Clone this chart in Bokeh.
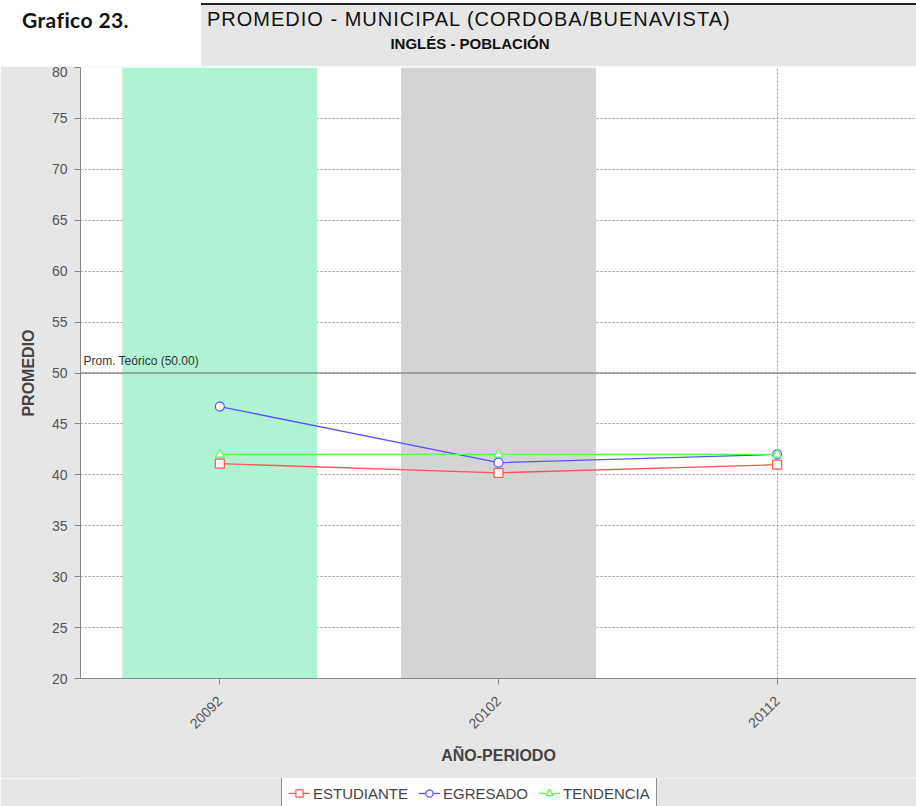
from bokeh.plotting import figure
from bokeh.models import (Range1d, FactorRange, FixedTicker, Span, Label, Legend, LegendItem,
                          BoxAnnotation, ColumnDataSource, Div)
from bokeh.layouts import column
from bokeh.embed import file_html
from bokeh.resources import INLINE
import math

# ---------------- data ----------------
periods = ["20092", "20102", "20112"]
estudiante = [41.1, 40.2, 41.0]
egresado = [46.7, 41.2, 42.0]
tendencia = [42.0, 42.0, 42.0]
prom_teorico = 50.0
y_ticks = [20, 25, 30, 35, 40, 45, 50, 55, 60, 65, 70, 75, 80]
band_periods = ["20092", "20102"]
band_colors = ["#b0f2d4", "#d4d4d4"]

chart_title = "PROMEDIO - MUNICIPAL (CORDOBA/BUENAVISTA)"
chart_subtitle = "INGLÉS - POBLACIÓN"
grafico_label = "Grafico 23."

W = 916
HEAD_H = 66
LEFT = 80
FRAME_W = W - LEFT
FRAME_H = 611
BOTTOM = 100
LEG_H = 28
BG = "#e6e6e6"
ARIAL_S = "'Liberation Sans', Arial, sans-serif"

# ---------------- header (HTML) ----------------
header_html = f"""
<div style="position:relative;width:{W}px;height:{HEAD_H}px;background:white;overflow:hidden;">
  <div style="position:absolute;left:201px;top:3px;width:{W-201}px;height:{HEAD_H-3}px;
              background:{BG};border-top:2px solid #222;box-sizing:border-box;"></div>
  <div style="position:absolute;left:22px;top:8px;line-height:24px;font-family:Lato,sans-serif;
              font-weight:bold;font-size:21px;letter-spacing:0.4px;color:#111;white-space:nowrap;">{grafico_label}</div>
  <div style="position:absolute;left:207px;top:7px;line-height:24px;font-family:{ARIAL_S};
              font-size:20px;letter-spacing:1px;color:#111;white-space:nowrap;">{chart_title}</div>
  <div style="position:absolute;left:370px;width:200px;top:35px;line-height:18px;text-align:center;
              font-family:'Liberation Sans Narrow','Liberation Sans',sans-serif;font-weight:bold;
              font-size:15px;color:#111;white-space:nowrap;">{chart_subtitle}</div>
</div>
"""
h = Div(text=header_html, width=W, height=HEAD_H, margin=0)

# ---------------- chart ----------------
x_range = FactorRange(factors=periods, range_padding=0)
y_range = Range1d(20, 80)
p = figure(frame_width=FRAME_W, frame_height=FRAME_H, x_range=x_range, y_range=y_range,
           output_backend="svg", toolbar_location=None,
           min_border_left=LEFT, min_border_right=0, min_border_top=1, min_border_bottom=BOTTOM,
           background_fill_color="white", border_fill_color=BG, outline_line_color=None,
           margin=0)

# bands
p.vbar(x=band_periods, width=0.7, bottom=20, top=80, fill_color=band_colors, line_color=None)

p.yaxis.ticker = FixedTicker(ticks=y_ticks)
for ax in (p.xaxis[0], p.yaxis[0]):
    ax.axis_line_color = "#888888"
    ax.major_tick_line_color = "#888888"
    ax.minor_tick_line_color = None
    ax.major_tick_in = 0
    ax.major_tick_out = 6
    ax.major_label_text_font = ARIAL_S
    ax.major_label_text_font_size = "14px"
    ax.major_label_text_color = "#555555"
    ax.axis_label_text_font = ARIAL_S
    ax.axis_label_text_font_style = "bold"
    ax.axis_label_text_font_size = "16px"
    ax.axis_label_text_color = "#444444"

p.yaxis.axis_label = "PROMEDIO"
p.yaxis.major_label_standoff = 7
p.yaxis.axis_label_standoff = 12
p.xaxis.axis_label = "AÑO-PERIODO"
p.xaxis.major_label_orientation = math.pi / 4
p.xaxis.major_label_standoff = 14
p.xaxis.axis_label_standoff = 11

p.grid.grid_line_color = "#999999"
p.grid.grid_line_dash = "2 2"
p.grid.grid_line_width = 1

# theoretical average
p.add_layout(Span(location=prom_teorico, dimension="width", line_color="#666666", line_width=1))
p.add_layout(Label(x=3, x_units="screen", y=prom_teorico, y_offset=5, text="Prom. Teórico (50.00)",
                   text_font=ARIAL_S, text_font_size="12px", text_color="#333333",
                   text_baseline="bottom"))

series = [("ESTUDIANTE", estudiante, "#ff5555", "square"),
          ("EGRESADO", egresado, "#5555ff", "circle"),
          ("TENDENCIA", tendencia, "#55ff55", "triangle")]

# legend strip below the chart (same series styles, renderers hidden)
lf = figure(frame_width=W, frame_height=LEG_H, x_range=x_range, y_range=y_range,
            output_backend="svg", toolbar_location=None, x_axis_type=None, y_axis_type=None,
            min_border_left=0, min_border_right=0, min_border_top=0, min_border_bottom=0,
            background_fill_color=BG, border_fill_color=BG, outline_line_color=None, margin=0)
lf.grid.visible = False
lf.add_layout(BoxAnnotation(left=0, right=W, top=0, bottom=LEG_H, left_units="canvas",
                            right_units="canvas", top_units="canvas", bottom_units="canvas",
                            fill_color=BG, fill_alpha=1, line_color=None))

items = []
for name, vals, col, marker in series:
    src = ColumnDataSource(dict(x=periods, y=vals))
    p.line("x", "y", source=src, line_color=col, line_width=1.3)
    p.scatter("x", "y", source=src, marker=marker, size=9, fill_color="white",
              line_color=col, line_width=1.2)
    l1 = lf.line("x", "y", source=src, line_color=col, line_width=1.3, visible=False)
    l2 = lf.scatter("x", "y", source=src, marker=marker, size=9, fill_color="white",
                    line_color=col, line_width=1.2, visible=False)
    items.append(LegendItem(label=name, renderers=[l1, l2]))

legend = Legend(items=items, orientation="horizontal", location=(281, -3),
                border_line_color="#222222", border_line_width=1, background_fill_color="white",
                background_fill_alpha=1, label_text_font=ARIAL_S, label_text_font_size="15px",
                label_text_color="#444444", glyph_width=22, glyph_height=18, label_standoff=3,
                spacing=10, padding=6, margin=0, click_policy="none")
lf.add_layout(legend, "center")

# dark left edge line of the chart panel
for fig, hh in ((p, FRAME_H + BOTTOM + 1), (lf, LEG_H)):
    fig.add_layout(BoxAnnotation(left=3, right=5, top=0, bottom=hh + 5, left_units="canvas",
                                 right_units="canvas", top_units="canvas", bottom_units="canvas",
                                 fill_color="#555555", fill_alpha=1, line_color=None))

layout = column(h, p, lf, spacing=0)
open("out.html", "w").write(file_html(layout, INLINE))
